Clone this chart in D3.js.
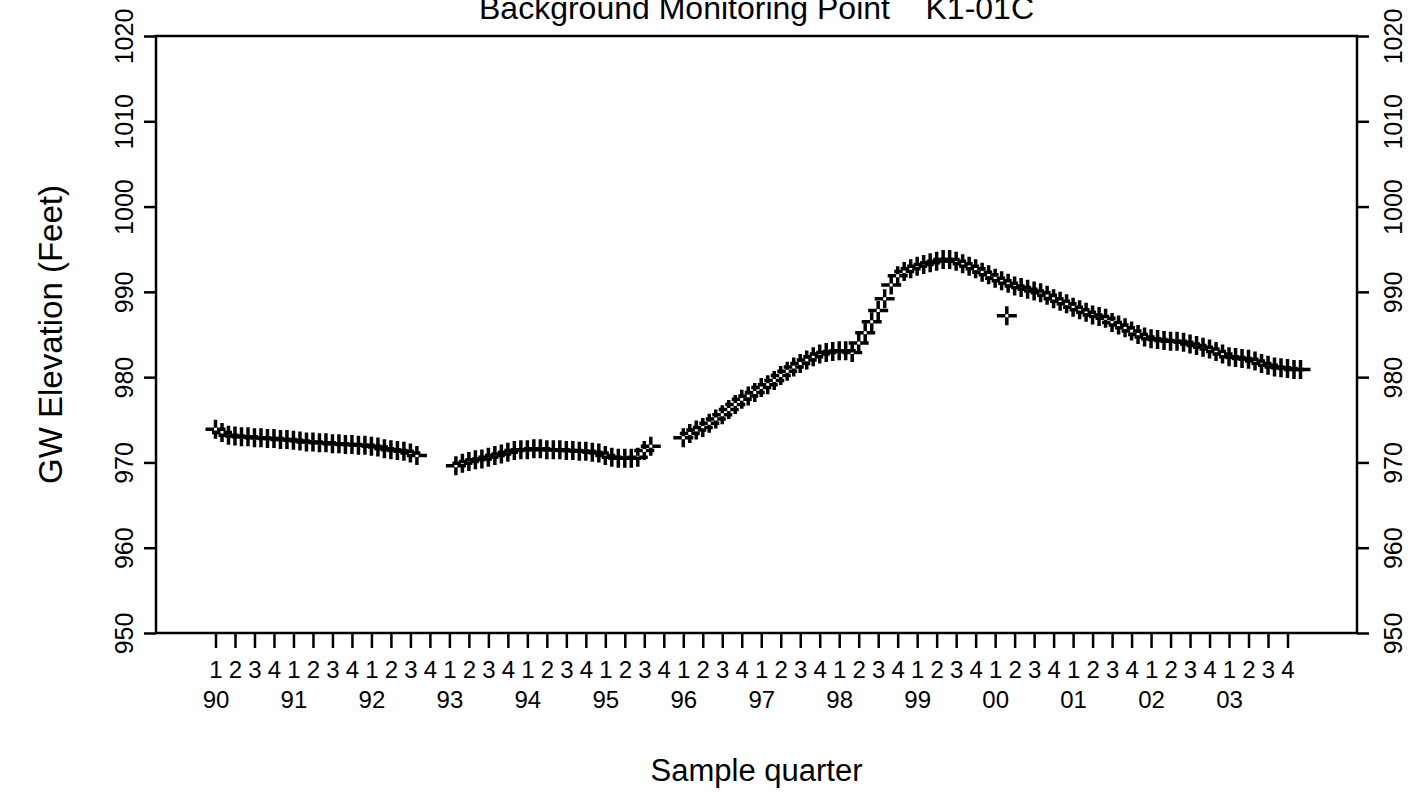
<!DOCTYPE html>
<html>
<head>
<meta charset="utf-8">
<script src="https://cdn.jsdelivr.net/npm/d3@7"></script>
<style>
  html, body { margin: 0; padding: 0; background: #fff; }
  svg { display: block; font-family: "Liberation Sans", Arial, sans-serif; }
</style>
</head>
<body>
<svg id="chart" width="1421" height="792"></svg>
<script>
// Groundwater elevation, monthly readings (feet), grouped by continuous sampling runs.
const run1Start = [1990, 1];
const run1Elev = [
  973.9, 973.5, 973.2, 973.1, 973.0, 973.0, 972.9, 972.9, 972.8, 972.8, 972.7, 972.7,
  972.6, 972.5, 972.4, 972.4, 972.3, 972.3, 972.2, 972.2, 972.1, 972.1, 972.0, 972.0,
  971.9, 971.8, 971.6, 971.5, 971.4, 971.3, 971.1, 970.8
];
const run2Start = [1993, 2];
const run2Elev = [
  969.6, 969.9, 970.1, 970.3, 970.4, 970.6, 970.8, 971.0, 971.2, 971.4, 971.5,
  971.5, 971.6, 971.6, 971.5, 971.5, 971.5, 971.4, 971.4, 971.3, 971.3, 971.2, 971.1,
  970.8, 970.6, 970.5, 970.5, 970.5, 970.6, 971.4, 971.9
];
const run3Start = [1996, 1];
const run3Elev = [
  972.9, 973.4, 973.8, 974.1, 974.6, 975.1, 975.6, 976.2, 976.8, 977.4, 977.8, 978.2,
  978.8, 979.1, 979.6, 980.2, 980.7, 981.2, 981.6, 982.0, 982.4, 982.7, 982.9, 983.0,
  983.1, 983.1, 982.9, 984.0, 985.2, 986.5, 987.8, 989.2, 990.8, 991.9, 992.4, 992.7,
  993.0, 993.2, 993.4, 993.6, 993.8, 993.8, 993.6, 993.3, 993.0, 992.7, 992.3, 992.0,
  991.6, 991.3, 991.0, 990.7, 990.5, 990.3, 990.1, 989.9, 989.6, 989.2, 988.9, 988.6,
  988.2, 987.9, 987.6, 987.3, 987.1, 986.9, 986.4, 986.1, 985.8, 985.4, 985.0, 984.7,
  984.5, 984.4, 984.3, 984.2, 984.2, 984.1, 983.9, 983.7, 983.5, 983.3, 983.0, 982.7,
  982.4, 982.3, 982.2, 982.1, 981.9, 981.6, 981.4, 981.2, 981.1, 981.0, 980.9, 980.9
];
// Single low reading early in 2000
const extraDates = [2000.15];
const extraElev = [987.2];

const firstYear = 1990, lastYear = 2003;
const quarterLabels = ["1", "2", "3", "4"];
const yTicks = [950, 960, 970, 980, 990, 1000, 1010, 1020];
const titleText = "Background Monitoring Point\u00a0\u00a0\u00a0\u00a0K1-01C";
const yTitle = "GW Elevation (Feet)";
const xTitle = "Sample quarter";

function runPoints(start, values) {
  return values.map((v, i) => {
    const m = start[1] - 1 + i;
    return { t: start[0] + Math.floor(m / 12) + (m % 12) / 12, v };
  });
}
const points = [
  ...runPoints(run1Start, run1Elev),
  ...runPoints(run2Start, run2Elev),
  ...runPoints(run3Start, run3Elev),
  ...extraDates.map((t, i) => ({ t, v: extraElev[i] }))
];

const box = { left: 156, right: 1357, top: 36, bottom: 633 };
const svg = d3.select("#chart");

const x = d3.scaleLinear().domain([firstYear, lastYear + 0.75]).range([215.5, 1287.5]);
const y = d3.scaleLinear().domain([950, 1020]).range([box.bottom, box.top]);

const quarterTicks = d3.range(0, (lastYear - firstYear + 1) * 4).map(i => firstYear + i / 4);
const yearTicks = d3.range(firstYear, lastYear + 1);

// Plot frame
svg.append("rect")
  .attr("x", box.left).attr("y", box.top)
  .attr("width", box.right - box.left).attr("height", box.bottom - box.top)
  .attr("fill", "none").attr("stroke", "#000").attr("stroke-width", 2.5);

// Quarter axis
const xAxis = svg.append("g")
  .attr("transform", `translate(0,${box.bottom})`)
  .call(d3.axisBottom(x).tickValues(quarterTicks).tickSize(15).tickSizeOuter(0)
    .tickFormat(d => quarterLabels[Math.round((d - firstYear) * 4) % 4]));
xAxis.select(".domain").remove();
xAxis.selectAll(".tick line").attr("stroke", "#000").attr("stroke-width", 2.5);
xAxis.selectAll(".tick text")
  .attr("y", 45).attr("dy", null)
  .attr("font-size", 24).attr("fill", "#000");

// Year labels under each first quarter
const yearAxis = svg.append("g")
  .attr("transform", `translate(0,${box.bottom})`)
  .call(d3.axisBottom(x).tickValues(yearTicks).tickSize(0)
    .tickFormat(d => String(d % 100).padStart(2, "0")));
yearAxis.select(".domain").remove();
yearAxis.selectAll(".tick text")
  .attr("y", 75).attr("dy", null)
  .attr("font-size", 24).attr("fill", "#000");

// Left and right elevation axes with rotated labels
function styleY(g, offset) {
  g.select(".domain").remove();
  g.selectAll(".tick line").attr("stroke", "#000").attr("stroke-width", 2.5);
  g.selectAll(".tick text")
    .attr("x", null).attr("dy", null)
    .attr("text-anchor", "middle")
    .attr("transform", `translate(${offset},0) rotate(-90)`)
    .attr("font-size", 25).attr("fill", "#000");
}
svg.append("g")
  .attr("transform", `translate(${box.left},0)`)
  .call(d3.axisLeft(y).tickValues(yTicks).tickSize(12).tickFormat(d3.format("d")))
  .call(g => styleY(g, -23));
svg.append("g")
  .attr("transform", `translate(${box.right},0)`)
  .call(d3.axisRight(y).tickValues(yTicks).tickSize(12).tickFormat(d3.format("d")))
  .call(g => styleY(g, 45));

// Plus markers with an open centre
const plus = "M-10,0H-1.5M1.5,0H10M0,-9.5V-1.5M0,1.5V9.5";
svg.append("g")
  .selectAll("path")
  .data(points)
  .join("path")
  .attr("transform", d => `translate(${x(d.t)},${y(d.v)})`)
  .attr("d", plus)
  .attr("fill", "none")
  .attr("stroke", "#000")
  .attr("stroke-width", 3.5);

// Titles
svg.append("text")
  .attr("x", (box.left + box.right) / 2).attr("y", 19)
  .attr("text-anchor", "middle").attr("font-size", 32)
  .text(titleText);
svg.append("text")
  .attr("x", (box.left + box.right) / 2).attr("y", 781)
  .attr("text-anchor", "middle").attr("font-size", 31)
  .text(xTitle);
svg.append("text")
  .attr("transform", `translate(62,${(box.top + box.bottom) / 2}) rotate(-90)`)
  .attr("text-anchor", "middle").attr("font-size", 33)
  .text(yTitle);
</script>
</body>
</html>
